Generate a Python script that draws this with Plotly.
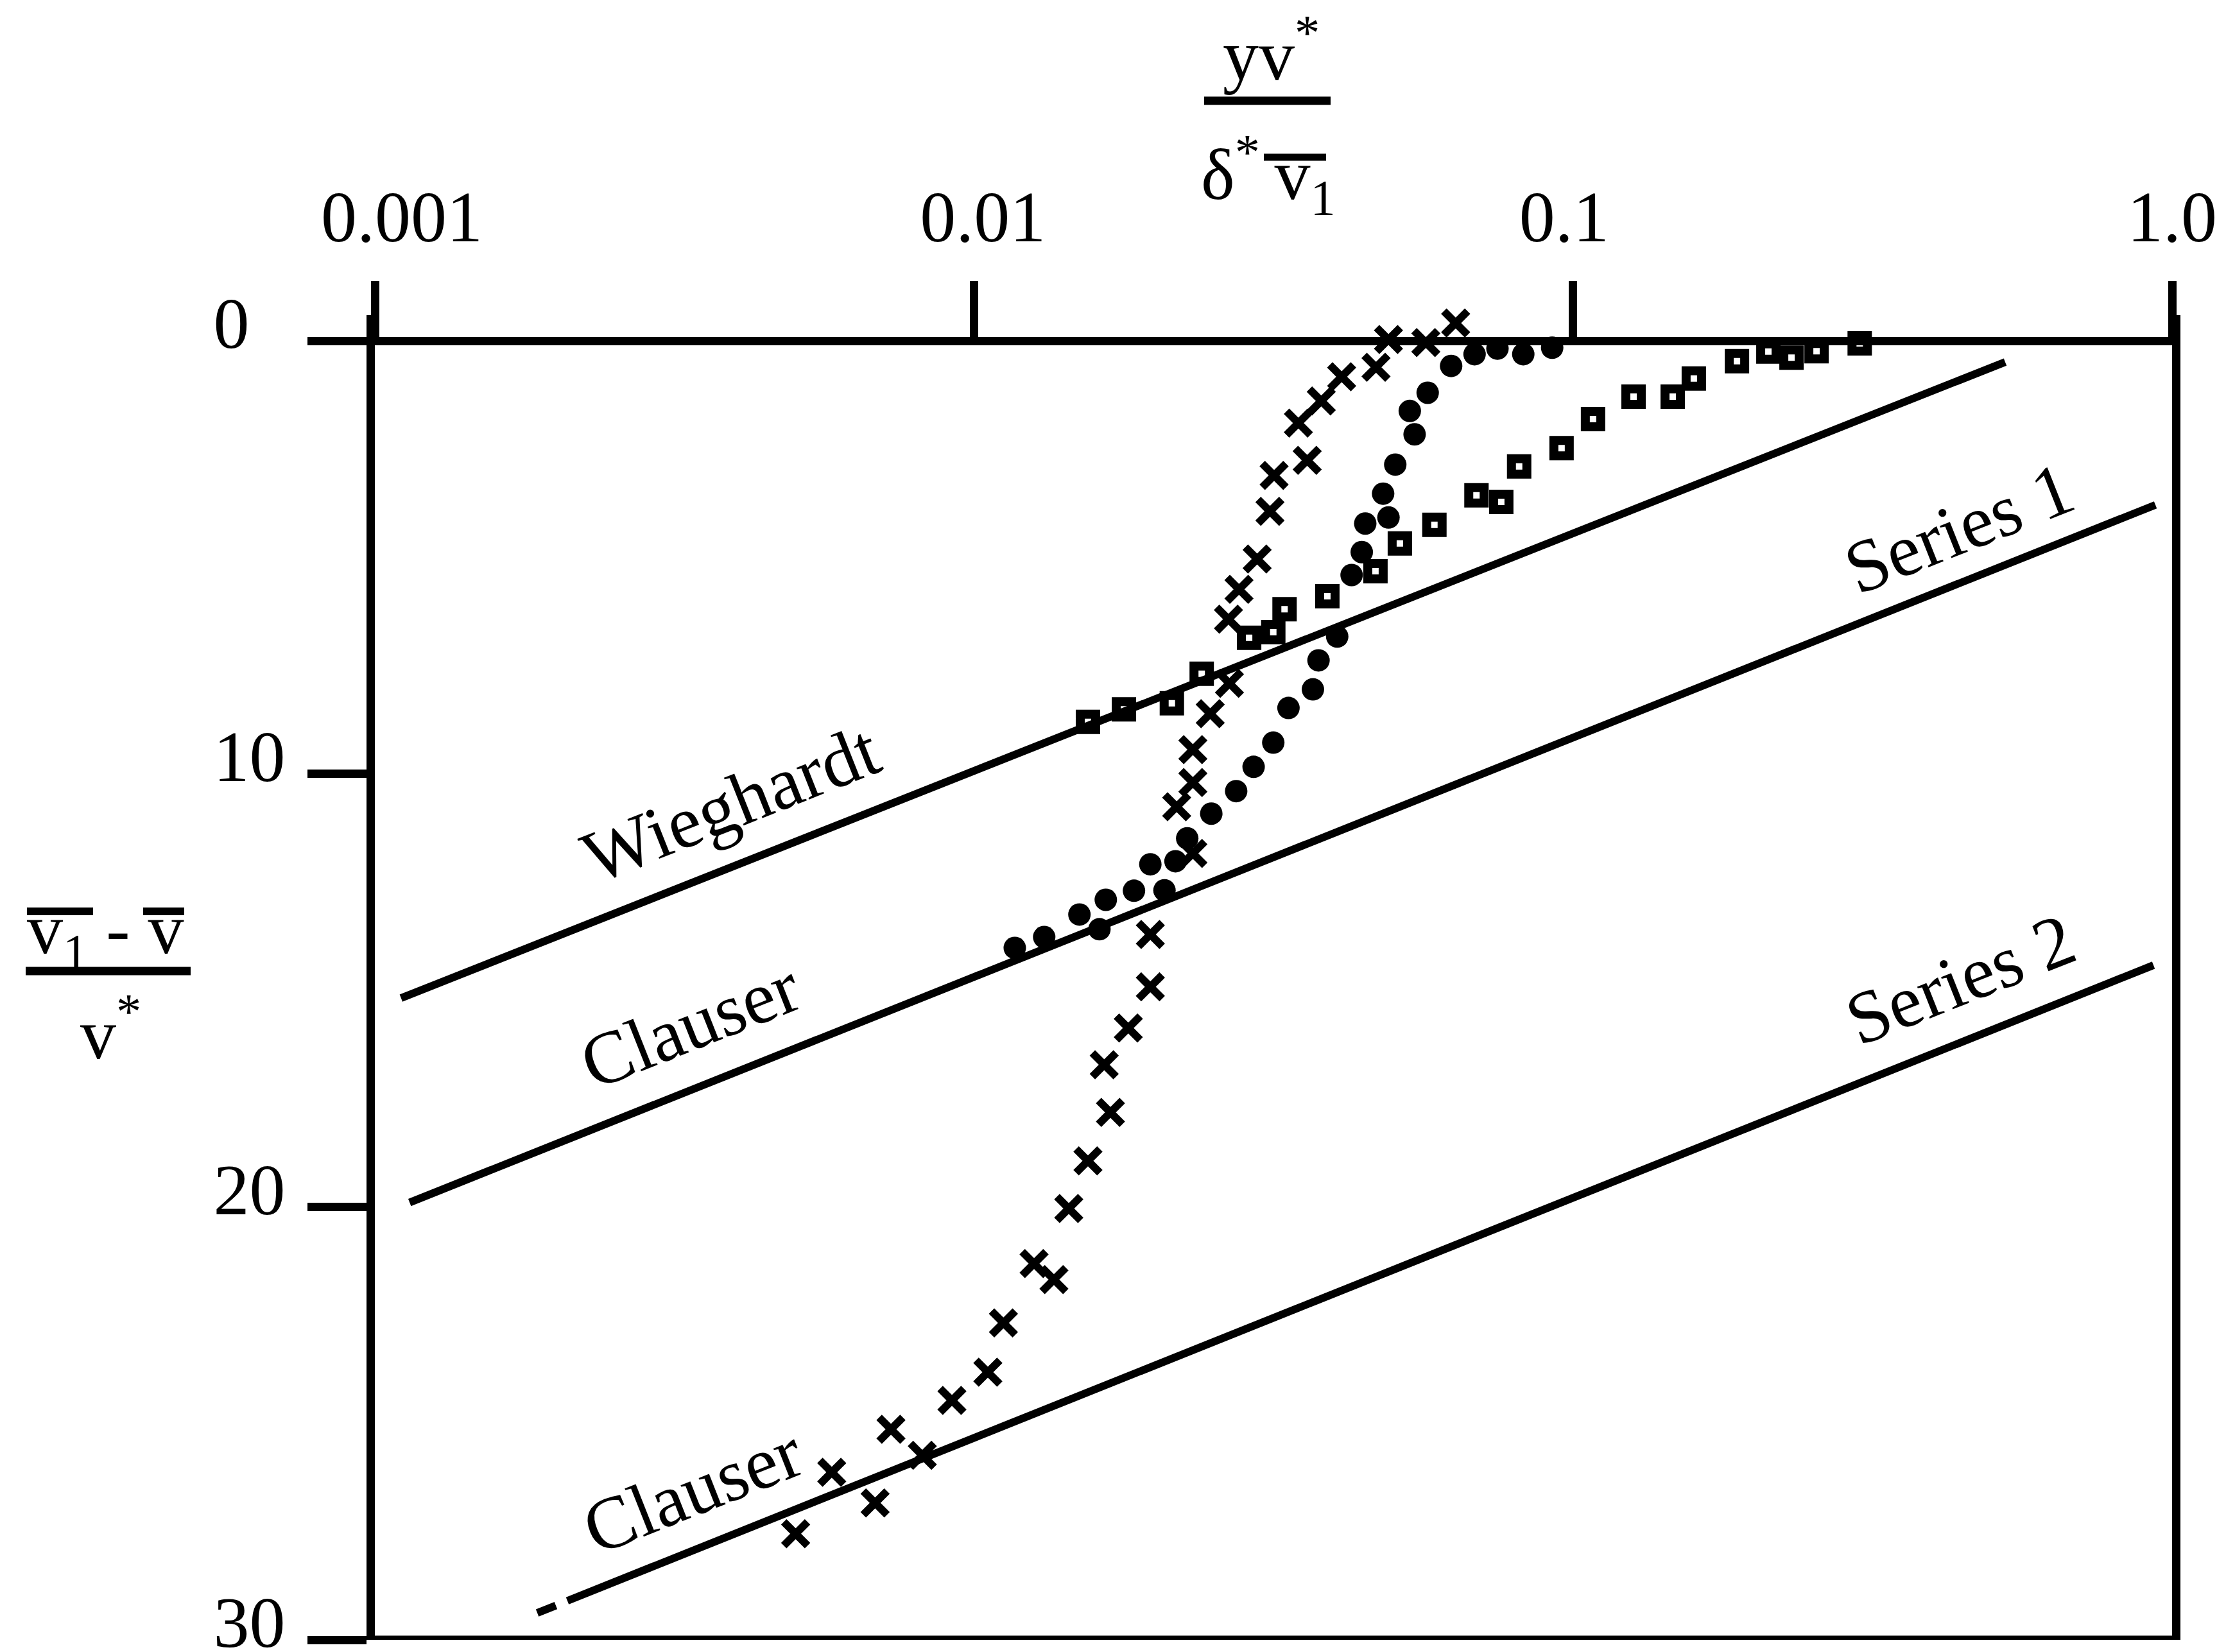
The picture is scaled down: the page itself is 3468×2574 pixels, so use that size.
import numpy as np
import plotly.graph_objects as go

FONT = "Liberation Serif"
W, H = 3468, 2574

# ---- measured profiles: (y v* / delta* v1, (v1 - v) / v*) ----
cross_x = [0.0637, 0.0568, 0.0492, 0.0469, 0.0411, 0.0380, 0.0348, 0.0360, 0.0317,
           0.0312, 0.0297, 0.0277, 0.0266, 0.0267, 0.0248, 0.0232, 0.0232, 0.0218,
           0.0232, 0.0197, 0.0197, 0.0181, 0.0165, 0.0169, 0.0155, 0.0144, 0.0126,
           0.0136, 0.0112, 0.01055, 0.00919, 0.00727, 0.00820, 0.00579, 0.00684, 0.00504]
cross_y = [-0.41, 0.04, -0.03, 0.61, 0.83, 1.39, 1.90, 2.76, 3.11,
           3.94, 5.04, 5.74, 6.43, 7.91, 8.61, 9.44, 10.20, 10.76,
           11.84, 13.71, 14.92, 15.87, 16.72, 17.82, 18.94, 20.04, 21.31,
           21.68, 22.68, 23.82, 24.47, 25.14, 25.74, 26.13, 26.84, 27.55]

dot_x = [0.0923, 0.0826, 0.0748, 0.0685, 0.0626, 0.0572, 0.0534, 0.0544, 0.0505,
         0.0482, 0.0492, 0.0450, 0.0444, 0.0427, 0.0404, 0.0376, 0.0368, 0.0335,
         0.0316, 0.0293, 0.0274, 0.0249, 0.0227, 0.0217, 0.0208, 0.0197, 0.0185,
         0.0166, 0.0162, 0.0150, 0.0131, 0.0117]
dot_y = [0.16, 0.31, 0.18, 0.31, 0.58, 1.20, 1.62, 2.16, 2.86,
         3.53, 4.08, 4.22, 4.88, 5.41, 6.83, 7.38, 8.05, 8.48,
         9.28, 9.84, 10.40, 10.92, 11.49, 12.02, 12.69, 12.09, 12.70,
         12.91, 13.59, 13.25, 13.77, 14.02]

square_x = [0.301, 0.255, 0.2316, 0.2119, 0.1878, 0.1591, 0.1467, 0.1262, 0.1080,
            0.0957, 0.0813, 0.0759, 0.0690, 0.0587, 0.0514, 0.0468, 0.0389, 0.0330,
            0.0316, 0.0288, 0.0240, 0.0214, 0.0178, 0.0155]
square_y = [0.06, 0.24, 0.39, 0.25, 0.47, 0.87, 1.29, 1.29, 1.81,
            2.48, 2.90, 3.72, 3.57, 4.25, 4.68, 5.32, 5.90, 6.20,
            6.73, 6.86, 7.69, 8.37, 8.51, 8.80]

# ---- reference log-law lines ----
wieghardt_x = [0.001106, 0.5265]
wieghardt_y = [15.18, 0.49]
clauser1_x = [0.001143, 0.938]
clauser1_y = [19.90, 3.79]
clauser2_dash_x = [0.001867, 0.002005]
clauser2_dash_y = [29.38, 29.21]
clauser2_x = [0.002096, 0.931]
clauser2_y = [29.10, 14.42]

x_ticks = [0.001, 0.01, 0.1, 1.0]
x_ticktext = ["\u00a0\u00a0\u00a00.001", "\u00a00.01", "0.1\u00a0", "1.0"]
y_ticks = [0, 10, 20, 30]
y_ticktext = ["0\u00a0\u00a0", "10", "20", "30"]

line_labels = [
    ("Wieghardt", 0.00393, 10.69),
    ("Clauser", 0.003358, 15.80),
    ("Series 1", 0.4410, 4.33),
    ("Series 2", 0.4431, 14.75),
    ("Clauser", 0.003391, 26.55),
]

# pixel frame: x from 0.001 to 1.0, y = 0 at Y_ZERO, y = 30 at Y1.
# The plot area starts a little above y = 0 so that points just above the
# top axis line (negative values) are still drawn.
X0, X1, Y_ZERO, Y1 = 584, 3384, 531, 2555
Y0 = 491
PX_PER_UNIT = (Y1 - Y_ZERO) / 30.0
y_top_value = -(Y_ZERO - Y0) / PX_PER_UNIT
x_axis_position = (Y1 - Y_ZERO) / (Y1 - Y0)


def px(xp):
    return (xp - X0) / (X1 - X0)


def py(yp):
    return (Y1 - yp) / (Y1 - Y0)


fig = go.Figure()

LINE_W = 12
for xs, ys in [(wieghardt_x, wieghardt_y), (clauser1_x, clauser1_y),
               (clauser2_dash_x, clauser2_dash_y), (clauser2_x, clauser2_y)]:
    fig.add_trace(go.Scatter(x=xs, y=ys, mode="lines",
                             line=dict(color="black", width=LINE_W),
                             showlegend=False, hoverinfo="skip"))

fig.add_trace(go.Scatter(x=square_x, y=square_y, mode="markers", cliponaxis=False,
                         marker=dict(symbol="square-open", size=24, color="black",
                                     line=dict(width=14, color="black")),
                         showlegend=False))
fig.add_trace(go.Scatter(x=dot_x, y=dot_y, mode="markers", cliponaxis=False,
                         marker=dict(symbol="circle", size=35, color="black",
                                     line=dict(width=0)),
                         showlegend=False))
fig.add_trace(go.Scatter(x=cross_x, y=cross_y, mode="markers", cliponaxis=False,
                         marker=dict(symbol="x-thin", size=37, color="black",
                                     line=dict(width=12, color="black")),
                         showlegend=False))

annotations = []
for text, lx, ly in line_labels:
    annotations.append(dict(x=np.log10(lx), y=ly, xref="x", yref="y", text=text,
                            showarrow=False, textangle=-21.6,
                            font=dict(family=FONT, size=116, color="black")))

TF = dict(family=FONT, size=112, color="black")
# top axis title: y v* / (delta* v1-bar)
annotations.append(dict(x=px(1980), y=py(150), xref="paper", yref="paper",
                        text="yv<sup>*</sup>", showarrow=False,
                        xanchor="center", yanchor="bottom", font=TF))
annotations.append(dict(x=px(1976), y=py(191), xref="paper", yref="paper",
                        text="\u03b4<sup>*</sup>\u2009v<sub>1</sub>", showarrow=False,
                        xanchor="center", yanchor="top", font=TF))
# left axis title: (v1-bar - v-bar) / v*
annotations.append(dict(x=px(164), y=py(1528), xref="paper", yref="paper",
                        text="v<sub>1</sub> - v", showarrow=False,
                        xanchor="center", yanchor="bottom", font=TF))
annotations.append(dict(x=px(172), y=py(1530), xref="paper", yref="paper",
                        text="v<sup>*</sup>", showarrow=False,
                        xanchor="center", yanchor="top", font=TF))

shapes = []
for (xa, ya, xb, yb, w) in [
    (1876, 157, 2073, 157, 13),   # top fraction bar
    (1969, 245, 2066, 245, 11),   # overline on v1
    (40, 1513, 297, 1513, 13),    # left fraction bar
    (42, 1420, 145, 1420, 12),    # overline on v1
    (223, 1420, 287, 1420, 12),   # overline on v
]:
    shapes.append(dict(type="line", xref="paper", yref="paper",
                       x0=px(xa), y0=py(ya), x1=px(xb), y1=py(yb),
                       line=dict(color="black", width=w)))
# bottom edge of the frame at y = 30
shapes.append(dict(type="line", xref="paper", yref="y", x0=0, x1=1, y0=30, y1=30,
                   layer="below", line=dict(color="black", width=13)))

fig.update_layout(
    width=W, height=H,
    margin=dict(l=X0, r=W - X1, t=Y0, b=H - Y1, pad=0, autoexpand=False),
    paper_bgcolor="white", plot_bgcolor="white",
    showlegend=False,
    annotations=annotations,
    shapes=shapes,
    xaxis=dict(type="log", range=[-3, 0], side="top", layer="below traces",
               anchor="free", position=x_axis_position, automargin=False,
               tickvals=x_ticks, ticktext=x_ticktext,
               ticks="outside", ticklen=87, tickwidth=13, tickcolor="black",
               showline=True, linewidth=13, linecolor="black",
               showgrid=False, zeroline=False,
               tickfont=dict(family=FONT, size=112, color="black"),
               ticklabelstandoff=17, ticklabeloverflow="allow"),
    yaxis=dict(range=[30, y_top_value], autorange=False, layer="below traces",
               automargin=False,
               tickvals=y_ticks, ticktext=y_ticktext,
               ticks="outside", ticklen=92, tickwidth=13, tickcolor="black",
               showline=True, linewidth=13, linecolor="black", mirror=True,
               showgrid=False, zeroline=False,
               tickfont=dict(family=FONT, size=112, color="black"),
               ticklabelstandoff=12, ticklabelshift=28,
               ticklabeloverflow="allow"),
)

fig.write_html("out.html")
